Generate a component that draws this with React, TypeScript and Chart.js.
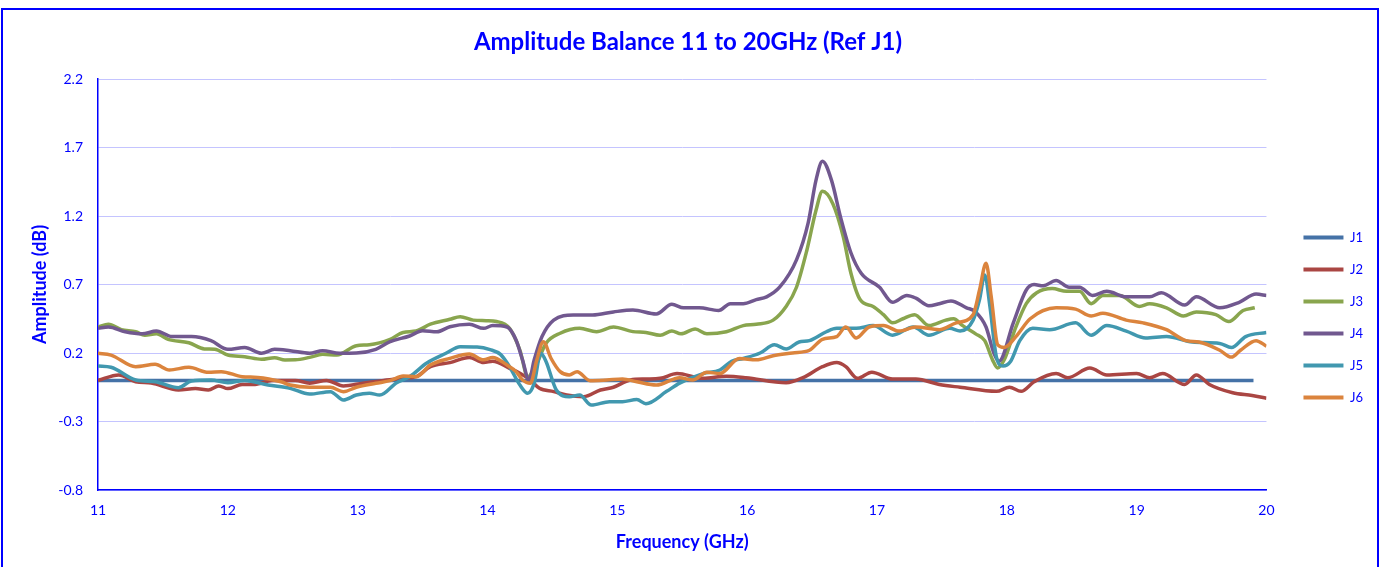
import React, { useEffect, useRef } from "react";
import { Chart, registerables } from "chart.js";

Chart.register(...registerables);

const SERIES_NAMES = ["J1", "J2", "J3", "J4", "J5", "J6"];
const SERIES_COLORS = ["#4572A7", "#AA4643", "#89A54E", "#71588F", "#4198AF", "#DB843D"];
const X_TICKS = [11, 12, 13, 14, 15, 16, 17, 18, 19, 20];
const Y_TICKS = [-0.8, -0.3, 0.2, 0.7, 1.2, 1.7, 2.2];

// [frequency GHz, amplitude dB]
const J1 = [[11.0, 0], [19.9, 0]];

const J2 = [[11.0, 0.0], [11.16, 0.04], [11.29, -0.01], [11.41, -0.02], [11.62, -0.07], [11.75, -0.06], [11.85, -0.07], [11.93, -0.04], [12.0, -0.06], [12.11, -0.03], [12.21, -0.03], [12.34, 0.0], [12.52, 0.0], [12.63, -0.02], [12.76, 0.0], [12.89, -0.04], [13.04, -0.02], [13.2, 0.0], [13.35, 0.015], [13.45, 0.027], [13.56, 0.1], [13.71, 0.13], [13.86, 0.168], [13.97, 0.13], [14.04, 0.14], [14.17, 0.088], [14.25, 0.052], [14.33, 0.003], [14.4, -0.058], [14.51, -0.082], [14.61, -0.107], [14.74, -0.119], [14.87, -0.07], [14.97, -0.05], [15.1, 0.003], [15.22, 0.01], [15.33, 0.015], [15.46, 0.05], [15.66, 0.015], [15.84, 0.03], [15.99, 0.02], [16.3, -0.017], [16.43, 0.02], [16.58, 0.1], [16.69, 0.13], [16.76, 0.1], [16.85, 0.015], [16.96, 0.06], [17.12, 0.01], [17.3, 0.01], [17.48, -0.03], [17.64, -0.05], [17.92, -0.08], [18.02, -0.05], [18.11, -0.08], [18.21, -0.01], [18.38, 0.05], [18.47, 0.02], [18.64, 0.09], [18.77, 0.04], [19.0, 0.05], [19.1, 0.02], [19.2, 0.05], [19.37, -0.03], [19.46, 0.04], [19.56, -0.03], [19.74, -0.09], [19.89, -0.11], [20.0, -0.13]];

const J3 = [[11.0, 0.39], [11.08, 0.41], [11.18, 0.37], [11.29, 0.355], [11.36, 0.33], [11.45, 0.34], [11.54, 0.3], [11.7, 0.275], [11.82, 0.23], [11.9, 0.227], [12.0, 0.185], [12.13, 0.173], [12.26, 0.154], [12.36, 0.166], [12.44, 0.149], [12.52, 0.15], [12.63, 0.168], [12.73, 0.19], [12.84, 0.185], [12.99, 0.253], [13.09, 0.26], [13.25, 0.3], [13.35, 0.35], [13.45, 0.36], [13.56, 0.41], [13.71, 0.446], [13.79, 0.465], [13.89, 0.44], [13.99, 0.436], [14.07, 0.43], [14.17, 0.38], [14.25, 0.22], [14.31, 0.027], [14.38, 0.125], [14.45, 0.27], [14.56, 0.344], [14.71, 0.38], [14.84, 0.356], [14.97, 0.39], [15.12, 0.356], [15.22, 0.35], [15.33, 0.33], [15.42, 0.36], [15.49, 0.34], [15.6, 0.375], [15.69, 0.34], [15.84, 0.355], [15.97, 0.4], [16.07, 0.41], [16.2, 0.44], [16.3, 0.54], [16.38, 0.68], [16.46, 0.95], [16.53, 1.24], [16.58, 1.38], [16.66, 1.29], [16.74, 1.05], [16.8, 0.78], [16.87, 0.59], [16.97, 0.54], [17.05, 0.48], [17.12, 0.42], [17.2, 0.45], [17.29, 0.48], [17.4, 0.4], [17.53, 0.44], [17.59, 0.45], [17.66, 0.4], [17.76, 0.34], [17.83, 0.29], [17.89, 0.15], [17.93, 0.09], [17.98, 0.15], [18.07, 0.39], [18.15, 0.56], [18.23, 0.64], [18.35, 0.67], [18.46, 0.65], [18.56, 0.65], [18.65, 0.56], [18.74, 0.62], [18.87, 0.62], [19.02, 0.54], [19.1, 0.56], [19.23, 0.53], [19.36, 0.47], [19.46, 0.5], [19.61, 0.48], [19.71, 0.43], [19.82, 0.51], [19.91, 0.53]];

const J4 = [[11.0, 0.38], [11.08, 0.39], [11.21, 0.355], [11.34, 0.34], [11.45, 0.36], [11.57, 0.32], [11.72, 0.32], [11.87, 0.29], [12.0, 0.227], [12.13, 0.24], [12.26, 0.198], [12.36, 0.227], [12.48, 0.217], [12.63, 0.198], [12.73, 0.217], [12.86, 0.198], [12.99, 0.2], [13.14, 0.227], [13.25, 0.283], [13.4, 0.324], [13.5, 0.363], [13.61, 0.355], [13.71, 0.392], [13.86, 0.41], [13.97, 0.38], [14.04, 0.4], [14.15, 0.39], [14.22, 0.295], [14.27, 0.149], [14.32, 0.003], [14.36, 0.15], [14.42, 0.32], [14.51, 0.44], [14.66, 0.477], [14.81, 0.477], [14.97, 0.5], [15.12, 0.514], [15.3, 0.485], [15.42, 0.555], [15.51, 0.53], [15.63, 0.53], [15.78, 0.51], [15.87, 0.56], [15.97, 0.56], [16.07, 0.59], [16.15, 0.61], [16.25, 0.68], [16.38, 0.88], [16.47, 1.15], [16.53, 1.46], [16.58, 1.6], [16.65, 1.46], [16.72, 1.19], [16.8, 0.93], [16.88, 0.78], [17.02, 0.68], [17.12, 0.57], [17.23, 0.62], [17.3, 0.6], [17.4, 0.545], [17.48, 0.56], [17.57, 0.58], [17.69, 0.53], [17.76, 0.5], [17.84, 0.39], [17.9, 0.2], [17.94, 0.14], [18.05, 0.42], [18.15, 0.66], [18.21, 0.7], [18.28, 0.69], [18.38, 0.73], [18.48, 0.68], [18.56, 0.68], [18.66, 0.62], [18.77, 0.65], [18.92, 0.61], [19.1, 0.61], [19.19, 0.64], [19.37, 0.55], [19.46, 0.61], [19.64, 0.53], [19.79, 0.57], [19.92, 0.63], [20.0, 0.62]];

const J5 = [[11.0, 0.105], [11.1, 0.096], [11.29, 0.003], [11.44, -0.01], [11.62, -0.053], [11.72, -0.004], [11.87, 0.003], [12.0, -0.017], [12.13, 0.0], [12.31, -0.034], [12.48, -0.058], [12.63, -0.1], [12.79, -0.082], [12.89, -0.143], [12.99, -0.107], [13.09, -0.094], [13.17, -0.107], [13.3, -0.017], [13.4, 0.027], [13.53, 0.125], [13.68, 0.198], [13.79, 0.246], [13.92, 0.244], [14.02, 0.225], [14.1, 0.19], [14.17, 0.1], [14.25, -0.034], [14.31, -0.094], [14.36, -0.02], [14.41, 0.198], [14.45, 0.14], [14.53, -0.07], [14.63, -0.119], [14.71, -0.107], [14.8, -0.18], [14.94, -0.155], [15.04, -0.155], [15.15, -0.14], [15.22, -0.17], [15.38, -0.08], [15.48, -0.02], [15.66, 0.05], [15.79, 0.076], [15.88, 0.14], [15.97, 0.16], [16.1, 0.2], [16.21, 0.26], [16.3, 0.23], [16.4, 0.28], [16.48, 0.29], [16.61, 0.355], [16.69, 0.38], [16.84, 0.38], [16.97, 0.4], [17.12, 0.33], [17.28, 0.39], [17.4, 0.33], [17.56, 0.38], [17.64, 0.36], [17.74, 0.44], [17.79, 0.59], [17.83, 0.77], [17.87, 0.54], [17.92, 0.17], [17.97, 0.105], [18.03, 0.14], [18.1, 0.29], [18.2, 0.38], [18.33, 0.37], [18.53, 0.42], [18.65, 0.33], [18.77, 0.4], [18.92, 0.36], [19.07, 0.31], [19.23, 0.32], [19.43, 0.28], [19.64, 0.27], [19.73, 0.24], [19.84, 0.32], [20.0, 0.35]];

const J6 = [[11.0, 0.198], [11.1, 0.185], [11.29, 0.1], [11.44, 0.117], [11.55, 0.076], [11.7, 0.096], [11.85, 0.059], [11.95, 0.064], [12.11, 0.027], [12.23, 0.022], [12.41, -0.01], [12.48, -0.034], [12.63, -0.05], [12.79, -0.05], [12.89, -0.082], [12.99, -0.05], [13.14, -0.021], [13.25, -0.002], [13.35, 0.032], [13.45, 0.027], [13.56, 0.112], [13.71, 0.161], [13.86, 0.193], [13.97, 0.15], [14.04, 0.168], [14.15, 0.112], [14.22, 0.064], [14.27, 0.003], [14.33, -0.021], [14.38, 0.149], [14.43, 0.283], [14.49, 0.16], [14.56, 0.064], [14.63, 0.04], [14.69, 0.064], [14.79, -0.002], [14.92, 0.003], [15.04, 0.01], [15.15, -0.01], [15.3, -0.034], [15.48, 0.02], [15.58, 0.003], [15.69, 0.06], [15.79, 0.05], [15.94, 0.16], [16.07, 0.15], [16.2, 0.18], [16.35, 0.2], [16.48, 0.22], [16.58, 0.3], [16.69, 0.32], [16.76, 0.39], [16.84, 0.31], [16.94, 0.39], [17.05, 0.4], [17.17, 0.36], [17.3, 0.39], [17.48, 0.37], [17.61, 0.42], [17.74, 0.48], [17.79, 0.66], [17.84, 0.855], [17.88, 0.61], [17.93, 0.26], [17.98, 0.24], [18.07, 0.32], [18.18, 0.45], [18.38, 0.53], [18.53, 0.52], [18.65, 0.47], [18.74, 0.49], [18.92, 0.44], [19.05, 0.42], [19.23, 0.37], [19.38, 0.29], [19.48, 0.28], [19.64, 0.22], [19.73, 0.17], [19.8, 0.22], [19.92, 0.29], [20.0, 0.25]];

const SERIES_DATA = [J1, J2, J3, J4, J5, J6];

const BLUE = "#0000FF";
const FONT = "Lato, 'Open Sans', sans-serif";

export default function App() {
  const ref = useRef<HTMLCanvasElement | null>(null);

  useEffect(() => {
    document.body.style.margin = "0";
    const canvas = ref.current;
    if (!canvas) return;
    const datasets = SERIES_NAMES.map((name, i) => ({
      label: name,
      data: SERIES_DATA[i].map((p) => ({ x: p[0], y: p[1] })),
      borderColor: SERIES_COLORS[i],
      backgroundColor: SERIES_COLORS[i],
      borderWidth: 3.5,
      pointRadius: 0,
      pointHoverRadius: 0,
      cubicInterpolationMode: "monotone" as const,
      fill: false,
      order: SERIES_NAMES.length - i,
      yAxisID: "y",
    }));

    const chart = new Chart(canvas, {
      type: "line",
      data: { datasets },
      options: {
        animation: false,
        responsive: false,
        maintainAspectRatio: false,
        layout: { padding: { top: 5, right: 4, bottom: 0, left: 0 } },
        plugins: {
          title: {
            display: true,
            text: "Amplitude Balance 11 to 20GHz (Ref J1)",
            color: BLUE,
            font: { family: FONT, size: 24, weight: "bold" },
            padding: { top: 12.6, bottom: 22.6 },
          },
          legend: {
            position: "right",
            labels: {
              color: BLUE,
              font: { family: FONT, size: 13 },
              boxWidth: 40,
              boxHeight: 4,
              padding: 19,
              sort: (a: any, b: any) => a.datasetIndex - b.datasetIndex,
              generateLabels: (c: any) =>
                (Chart.defaults.plugins.legend.labels as any)
                  .generateLabels(c)
                  .map((l: any) => ({ ...l, lineWidth: 0 })),
            },
          },
          tooltip: { enabled: false },
        },
        scales: {
          x: {
            type: "linear",
            min: 11,
            max: 20,
            afterBuildTicks: (s: any) => {
              s.ticks = X_TICKS.map((v) => ({ value: v }));
            },
            afterFit: (s: any) => {
              s.height = 130;
            },
            ticks: {
              color: BLUE,
              font: { family: FONT, size: 14 },
              padding: 12,
              maxRotation: 0,
              callback: (v: any) => String(v),
            },
            grid: { display: false, drawTicks: false },
            border: { display: true, color: BLUE, width: 1.5 },
            title: {
              display: true,
              text: "Frequency (GHz)",
              color: BLUE,
              font: { family: FONT, size: 18, weight: "bold" },
              padding: { top: 0, bottom: 67.5 },
            },
          },
          y: {
            type: "linear",
            position: "left",
            min: -0.8,
            max: 2.2,
            afterBuildTicks: (s: any) => {
              s.ticks = Y_TICKS.map((v) => ({ value: v }));
            },
            afterFit: (s: any) => {
              s.width = 95;
            },
            ticks: {
              color: BLUE,
              font: { family: FONT, size: 14 },
              padding: 15,
              callback: (v: any) => Number(v).toFixed(1),
            },
            grid: { color: "#C4C4FF", lineWidth: 1, drawTicks: false },
            border: { display: true, color: BLUE, width: 1.5 },
            title: {
              display: true,
              text: "Amplitude (dB)",
              color: BLUE,
              font: { family: FONT, size: 18, weight: "bold" },
              padding: { top: 26, bottom: 0 },
            },
          },
          y2: {
            type: "linear",
            position: "right",
            display: true,
            afterFit: (s: any) => {
              s.width = 18;
            },
            ticks: { display: false },
            grid: { display: false, drawTicks: false },
            border: { display: false },
          },
        },
      },
    } as any);
    return () => chart.destroy();
  }, []);

  return (
    <div
      style={{
        position: "absolute",
        left: 1,
        top: 8,
        width: 1378,
        height: 614,
        border: "2px solid #0000FF",
        boxSizing: "border-box",
        background: "#FFFFFF",
      }}
    >
      <canvas ref={ref} width={1374} height={610} style={{ display: "block" }} />
    </div>
  );
}
